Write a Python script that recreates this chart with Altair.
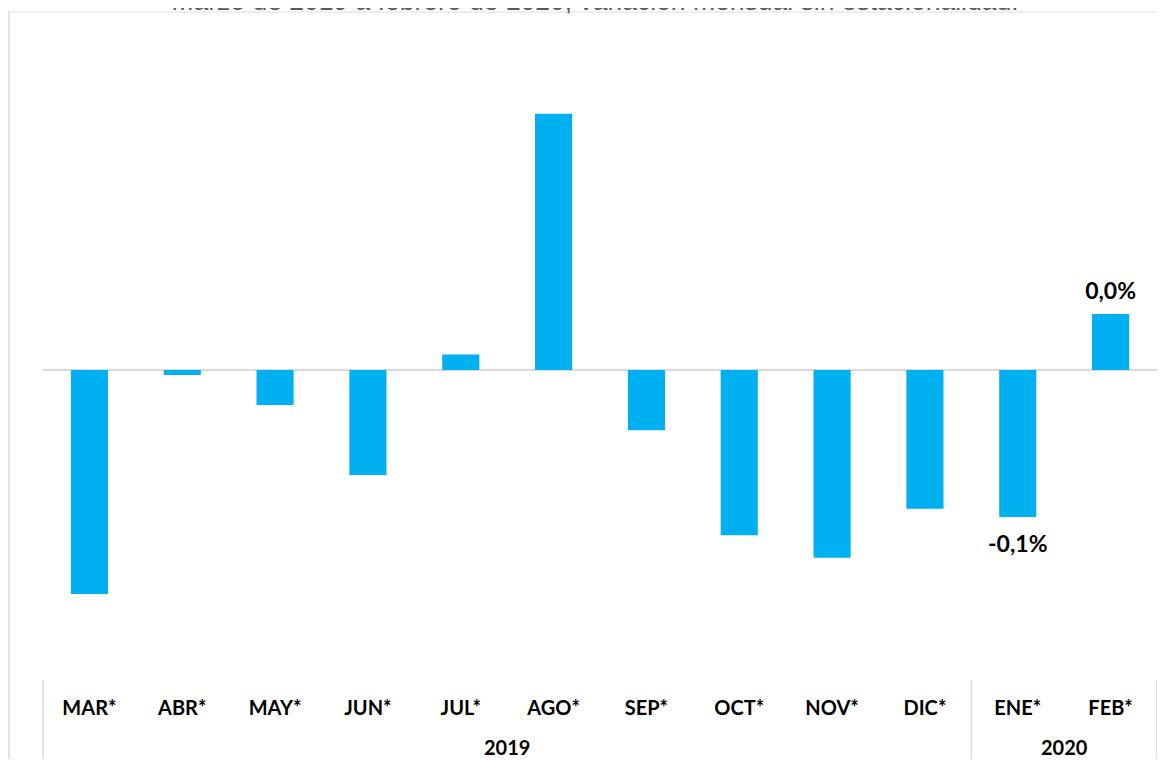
import altair as alt
import pandas as pd

# ---- data -------------------------------------------------------------
meses = ["MAR*", "ABR*", "MAY*", "JUN*", "JUL*", "AGO*", "SEP*", "OCT*", "NOV*", "DIC*", "ENE*", "FEB*"]
valores = [-0.160, -0.0036, -0.025, -0.075, 0.011, 0.183, -0.043, -0.118, -0.134, -0.099, -0.105, 0.040]
etiquetas = ["", "", "", "", "", "", "", "", "", "", "-0,1%", "0,0%"]
anios = ["2019", "2020"]
anio_ancla = ["AGO*", "FEB*"]          # year label centred on the left edge of these months
sep_inicio = ["MAR*", "ENE*"]          # group separators at the left edge of these months
sep_fin = ["FEB*"]                     # group separator at the right edge of this month
titulo = "Marzo de 2019 a febrero de 2020, variación mensual sin estacionalidad."

df = pd.DataFrame({"mes": meses, "valor": valores, "etiqueta": etiquetas})
df_anios = pd.DataFrame({"mes": anio_ancla, "anio": anios})
df_sep0 = pd.DataFrame({"mes": sep_inicio})
df_sep1 = pd.DataFrame({"mes": sep_fin})
df_zero = pd.DataFrame({"valor": [0.0]})
df_one = pd.DataFrame({"k": [0]})

PL, PT = 35, 12
W, H = 1114, 660
AZUL = "#00B0F0"
GRIS = "#d9d9d9"

x_axis = alt.Axis(title=None, labelAngle=0, domain=False, ticks=False, labelPadding=18,
                  labelFont="Lato", labelFontSize=20, labelFontWeight="bold", labelColor="#000000")
x_scale = alt.Scale(domain=meses, paddingInner=0, paddingOuter=0)
y_scale = alt.Scale(domain=[-0.2214, 0.25], nice=False, zero=False)


def X(bp=0.5):
    return alt.X("mes:N", sort=meses, scale=x_scale, axis=x_axis, bandPosition=bp)


zero = alt.Chart(df_zero).mark_rule(color=GRIS, strokeWidth=2).encode(
    y=alt.Y("valor:Q", scale=y_scale, axis=None), x=alt.value(0), x2=alt.value(W)
)

bars = alt.Chart(df).mark_bar(color=AZUL, width={"band": 0.4}).encode(
    x=alt.X("mes:N", sort=meses, scale=x_scale, axis=x_axis),
    y=alt.Y("valor:Q", scale=y_scale, axis=None),
)

lab_pos = alt.Chart(df).transform_filter("datum.etiqueta != '' && datum.valor >= 0").mark_text(
    font="Lato", fontSize=23, fontWeight="bold", color="#000000", baseline="middle", dy=-22
).encode(x=alt.X("mes:N", sort=meses, scale=x_scale, axis=x_axis),
         y=alt.Y("valor:Q", scale=y_scale, axis=None), text="etiqueta:N")

lab_neg = alt.Chart(df).transform_filter("datum.etiqueta != '' && datum.valor < 0").mark_text(
    font="Lato", fontSize=23, fontWeight="bold", color="#000000", baseline="middle", dy=28
).encode(x=alt.X("mes:N", sort=meses, scale=x_scale, axis=x_axis),
         y=alt.Y("valor:Q", scale=y_scale, axis=None), text="etiqueta:N")

years = alt.Chart(df_anios).mark_text(
    font="Lato", fontSize=20, fontWeight="bold", color="#000000", baseline="middle"
).encode(x=X(0), y=alt.value(H + 69), text="anio:N")

sep0 = alt.Chart(df_sep0).mark_rule(color=GRIS, strokeWidth=1.5).encode(
    x=X(0), y=alt.value(H), y2=alt.value(H + 95)
)
sep1 = alt.Chart(df_sep1).mark_rule(color=GRIS, strokeWidth=1.5).encode(
    x=X(1), y=alt.value(H), y2=alt.value(H + 95)
)

frame_top = alt.Chart(df_one).mark_rule(color="#e8e8e8", strokeWidth=1.5).encode(
    x=alt.value(-PL + 1), x2=alt.value(W + 10), y=alt.value(-8)
)
frame_left = alt.Chart(df_one).mark_rule(color=GRIS, strokeWidth=1.5).encode(
    x=alt.value(-PL + 1), y=alt.value(-8), y2=alt.value(H + 95)
)

title_txt = alt.Chart(df_one).mark_text(
    font="Liberation Sans", fontSize=26.5, color="#595959", align="center", baseline="alphabetic"
).encode(x=alt.value(552), y=alt.value(-10), text=alt.value(titulo))

chart = alt.layer(
    frame_top, frame_left, title_txt, zero, bars, lab_pos, lab_neg, years, sep0, sep1
).properties(
    width=W, height=H,
    autosize=alt.AutoSizeParams(type="none"),
    padding={"left": PL, "top": PT, "right": 0, "bottom": 79},
).configure_view(stroke=None)

chart.save("out.html", embed_options={"renderer": "svg", "actions": False})
